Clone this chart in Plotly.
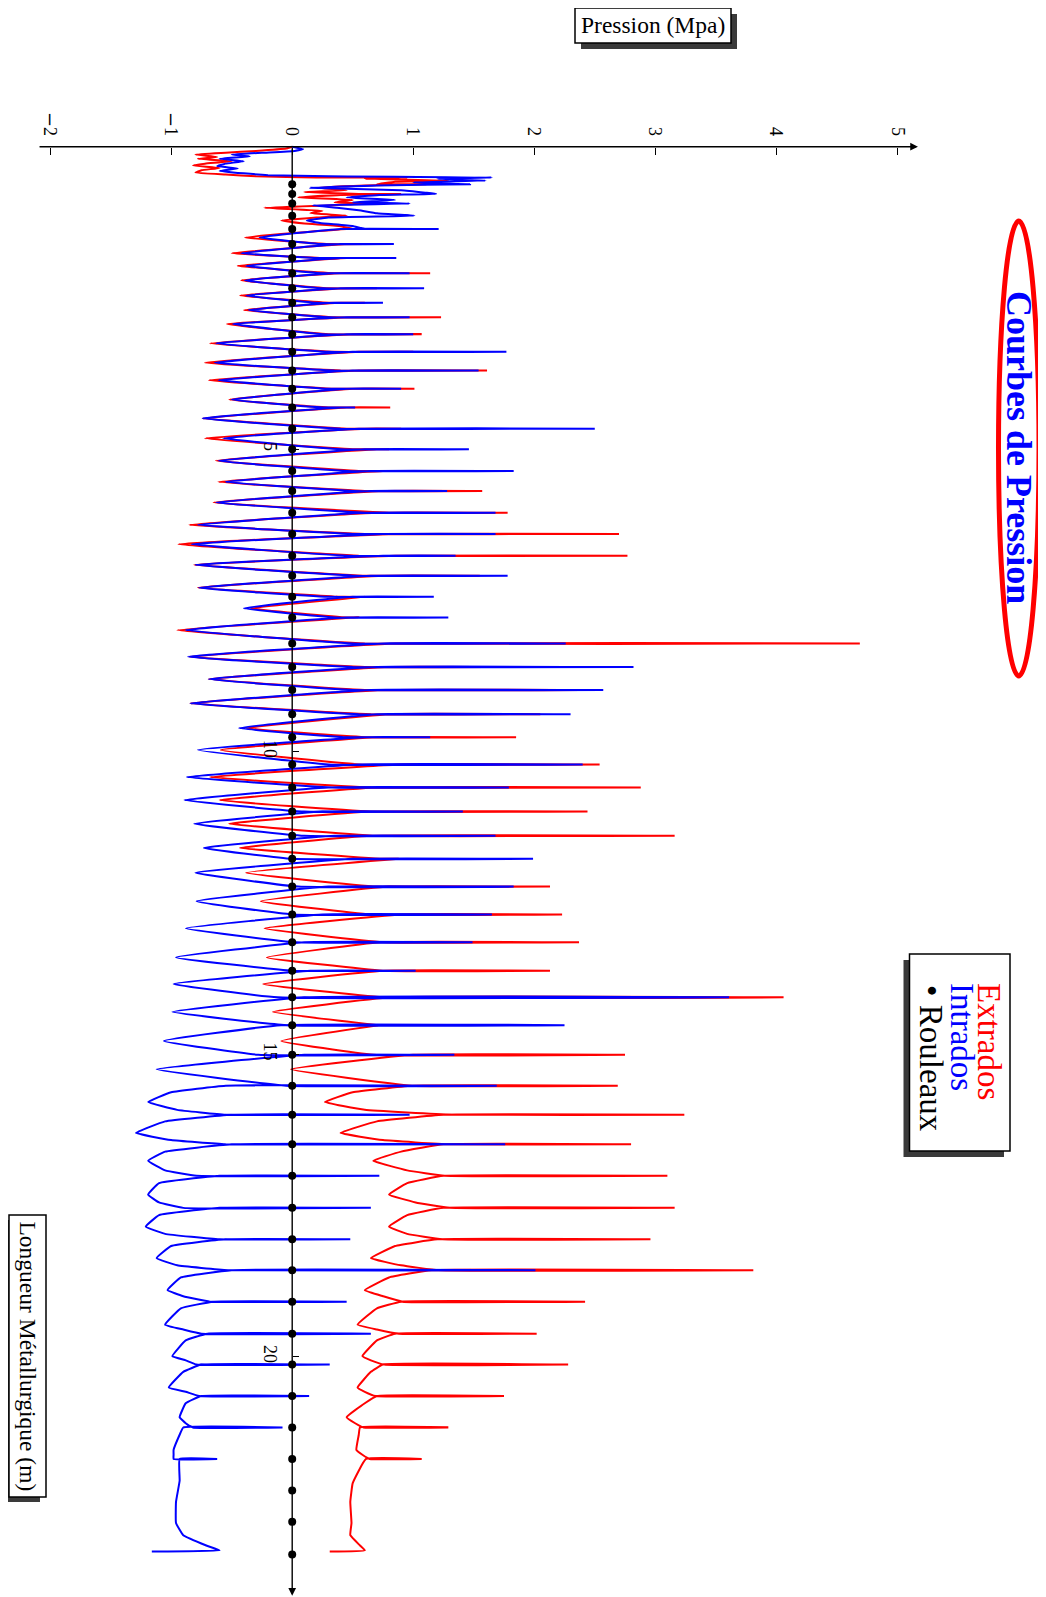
import plotly.graph_objects as go

# ---------------- data ----------------
# roller positions along the strand (m)
rollers = [0.62, 0.78, 0.94, 1.14, 1.36, 1.61, 1.84, 2.09, 2.34, 2.58, 2.82, 3.10, 3.39, 3.70,
           4.00, 4.31, 4.66, 5.00, 5.36, 5.69, 6.05, 6.40, 6.76, 7.09, 7.44, 7.78, 8.21, 8.60,
           8.98, 9.38, 9.76, 10.21, 10.59, 10.99, 11.39, 11.77, 12.23, 12.69, 13.15, 13.62,
           14.06, 14.52, 15.01, 15.52, 16.00, 16.49, 17.01, 17.54, 18.06, 18.57, 19.09, 19.62,
           20.13, 20.65, 21.17, 21.69, 22.21, 22.73, 23.27]

# rollers index 4..55 carry a pressure spike
first_spike, last_spike = 4, 55

red_peak = [0.55, 0.60, 0.60, 1.14, 0.70, 0.60, 1.23, 1.07, 1.00, 1.61, 1.01, 0.81, 0.90,
            0.80, 0.83, 1.57, 1.78, 2.70, 2.77, 1.55, 0.36, 0.50, 4.69, 1.60, 2.39, 2.05, 1.85,
            2.54, 2.88, 2.44, 3.16, 0.88, 2.13, 2.23, 2.37, 2.13, 4.06, 0.71, 2.75,
            2.69, 3.24, 2.80, 3.10, 3.16, 2.96, 3.81, 2.42, 2.02, 2.28, 1.75, 1.29, 1.07]
blue_peak = [1.21, 0.84, 0.86, 0.97, 1.09, 0.75, 0.97, 1.00, 1.77, 1.54, 0.90, 0.52, 2.50,
             1.46, 1.83, 1.28, 1.68, 1.68, 1.35, 1.78, 1.17, 1.29, 2.26, 2.82, 2.57, 2.30, 1.14,
             2.40, 1.79, 1.41, 1.68, 1.99, 1.83, 1.65, 1.49, 1.02, 3.61, 2.25, 1.34,
             1.69, 0.97, 1.76, 0.72, 0.65, 0.48, 2.01, 0.45, 0.65, 0.31, 0.14, -0.08, -0.62]

red_pre = [0.50, 0.30, 0.25, 0.35, 0.30, 0.30, 0.35, 0.30, 0.35, 0.40, 0.35, 0.30, 0.45,
           0.50, 0.55, 0.60, 0.80, 0.60, 0.55, 0.60, 0.40, 0.45, 0.60, 0.60, 0.60, 0.65, 0.60,
           0.55, 0.65, 0.65, 0.70, 0.75, 0.70, 0.65, 0.75, 0.75, 0.75, 0.71, 0.67,
           0.99, 1.32, 1.30, 1.26, 1.30, 1.24, 1.21, 0.91, 0.88, 0.76, 0.69, 0.59, 0.64]
red_post = [0.45, 0.45, 0.45, 0.40, 0.45, 0.40, 0.50, 0.50, 0.55, 0.55, 0.50, 0.45, 0.60,
            0.70, 0.75, 0.75, 0.70, 0.85, 0.85, 0.75, 0.60, 0.55, 0.85, 0.80, 0.75, 0.80, 0.70,
            0.90, 0.70, 0.65, 0.65, 0.88, 0.80, 0.90, 0.73, 0.75, 0.82, 0.71, 1.00,
            0.99, 1.25, 1.25, 1.25, 1.25, 1.20, 1.15, 0.90, 0.85, 0.75, 0.70, 0.56, 0.61]
blue_pre = [0.60, 0.25, 0.20, 0.25, 0.25, 0.20, 0.30, 0.25, 0.30, 0.35, 0.30, 0.25, 0.40,
            0.40, 0.45, 0.50, 0.60, 0.50, 0.45, 0.50, 0.30, 0.35, 0.50, 0.50, 0.50, 0.55, 0.45,
            0.30, 0.33, 0.10, 0.10, 0.00, 0.05, 0.00, 0.03, 0.00, -0.12, -0.05, -0.28,
            -0.05, -0.55, -0.55, -0.79, -0.90, -0.60, -0.53, -0.68, -0.75, -0.79, -0.77, -0.82, -0.98]
blue_post = [0.40, 0.40, 0.40, 0.35, 0.40, 0.35, 0.45, 0.45, 0.50, 0.50, 0.45, 0.40, 0.55,
             0.60, 0.65, 0.65, 0.60, 0.75, 0.75, 0.65, 0.50, 0.45, 0.75, 0.70, 0.65, 0.70, 0.60,
             0.55, 0.30, 0.25, 0.35, 0.50, 0.30, 0.25, 0.10, 0.15, 0.10, -0.09, 0.10,
             -0.55, -0.50, -0.50, -0.60, -0.60, -0.55, -0.50, -0.65, -0.70, -0.75, -0.75, -0.90, -0.93]

# troughs between consecutive spiking rollers
trough_pos = [1.50, 1.76, 1.97, 2.21, 2.46, 2.70, 2.93, 3.25, 3.57, 3.86, 4.18, 4.49, 4.82,
              5.19, 5.54, 5.88, 6.25, 6.57, 6.91, 7.29, 7.63, 7.99, 8.43, 8.80, 9.20, 9.61,
              9.97, 10.42, 10.80, 11.19, 11.59, 12.00, 12.47, 12.92, 13.40, 13.84, 14.30,
              14.78, 15.25, 15.79, 16.30, 16.76, 17.32, 17.85, 18.37, 18.90, 19.47, 19.99,
              20.51, 21.00, 21.54]
red_trough = [-0.39, -0.50, -0.45, -0.42, -0.43, -0.40, -0.54, -0.68, -0.72, -0.69, -0.52,
              -0.74, -0.72, -0.63, -0.61, -0.65, -0.85, -0.94, -0.81, -0.78, -0.34, -0.95,
              -0.85, -0.69, -0.84, -0.38, -0.59, -0.68, -0.60, -0.52, -0.43, -0.38, -0.26,
              -0.23, -0.21, -0.24, -0.16, -0.09, -0.01, 0.27, 0.40, 0.67, 0.80, 0.80, 0.65,
              0.60, 0.54, 0.58, 0.54, 0.45, 0.53]
blue_trough = [-0.27, -0.42, -0.38, -0.39, -0.38, -0.36, -0.49, -0.63, -0.64, -0.61, -0.50,
               -0.74, -0.57, -0.61, -0.55, -0.63, -0.78, -0.83, -0.80, -0.77, -0.40, -0.88,
               -0.86, -0.69, -0.84, -0.44, -0.78, -0.87, -0.89, -0.81, -0.73, -0.80, -0.79,
               -0.88, -0.96, -0.98, -0.99, -1.06, -1.12, -1.19, -1.29, -1.19, -1.19, -1.21,
               -1.12, -1.03, -1.05, -0.99, -1.02, -0.93, -0.98]

# rounded (U-shaped) gaps in the lower zone: rollers index 43..54 -> next roller
round_first = 43
shoulder_a_pos = [15.63, 16.11, 16.61, 17.13, 17.66, 18.17, 18.69, 19.20, 19.73, 20.25, 20.77, 21.29]
shoulder_b_pos = [15.92, 16.42, 16.92, 17.45, 17.97, 18.49, 19.00, 19.55, 20.06, 20.58, 21.10, 21.62]
red_shoulder_a = [0.50, 0.70, 0.90, 0.95, 0.95, 0.85, 0.80, 0.70, 0.70, 0.65, 0.60, 0.55]
red_shoulder_b = [0.60, 0.75, 0.95, 1.02, 0.95, 0.90, 0.75, 0.70, 0.65, 0.60, 0.52, 0.58]
blue_shoulder_a = [-1.00, -1.05, -1.05, -1.10, -1.10, -1.00, -0.92, -0.92, -0.88, -0.90, -0.88, -0.93]
blue_shoulder_b = [-0.95, -1.00, -1.05, -1.10, -1.05, -0.95, -0.90, -0.90, -0.88, -0.88, -0.88, -0.98]

# start of the curves (entry zone, before the regular roller pattern)
red_lead_L = [0.00, 0.03, 0.07, 0.10, 0.13, 0.17, 0.20, 0.24, 0.28, 0.31, 0.35, 0.39, 0.43,
              0.46, 0.49, 0.51, 0.51, 0.53, 0.56, 0.58, 0.62, 0.62, 0.64, 0.68, 0.72, 0.75,
              0.78, 0.78, 0.80, 0.84, 0.88, 0.92, 0.94, 0.97, 1.01, 1.06, 1.10, 1.14, 1.17,
              1.22, 1.27, 1.31]
red_lead_P = [0.00, -0.05, -0.30, -0.55, -0.80, -0.62, -0.78, -0.50, -0.72, -0.82, -0.60,
              -0.75, -0.80, -0.55, -0.30, 0.20, 0.95, 0.60, 1.29, 0.85, 0.70, 1.10, 0.60, 0.20,
              0.45, 0.10, 0.55, 0.90, 0.40, 0.05, 0.50, 0.35, 0.60, 0.30, -0.23, 0.25, 0.15,
              0.45, 0.20, -0.09, 0.10, 0.39]
blue_lead_L = [0.00, 0.04, 0.07, 0.10, 0.13, 0.16, 0.20, 0.24, 0.28, 0.32, 0.36, 0.40, 0.44,
               0.47, 0.49, 0.51, 0.53, 0.56, 0.59, 0.62, 0.64, 0.68, 0.72, 0.76, 0.78, 0.80,
               0.84, 0.88, 0.92, 0.94, 0.97, 1.01, 1.05, 1.10, 1.14, 1.17, 1.22, 1.26, 1.31]
blue_lead_P = [0.00, 0.09, 0.02, -0.25, -0.50, -0.35, -0.60, -0.40, -0.55, -0.62, -0.45,
               -0.60, -0.40, -0.20, 0.30, 1.65, 1.20, 1.60, 1.00, 1.47, 0.70, 0.15, 0.90, 1.10,
               1.19, 0.72, 0.45, 0.85, 0.50, 0.97, 0.17, 0.37, 0.55, 0.70, 1.01, 0.30, 0.12,
               0.23, 0.50]

# end of the curves (after the last spiking roller)
red_tail_L = [22.09, 22.40, 22.75, 22.95, 23.12, 23.20, 23.22]
red_tail_P = [0.50, 0.48, 0.49, 0.48, 0.56, 0.60, 0.31]
blue_tail_L = [22.05, 22.40, 22.75, 22.95, 23.12, 23.20, 23.22]
blue_tail_P = [-0.93, -0.96, -0.96, -0.90, -0.71, -0.60, -1.16]

pressure_ticks = [-2, -1, 0, 1, 2, 3, 4, 5]
MINUS = '<span style="font-family:DejaVu Serif">\u2212</span>'
pressure_labels = [MINUS + "2", MINUS + "1", "0", "1", "2", "3", "4", "5"]
length_ticks = [5, 10, 15, 20]


def build(lead_L, lead_P, peak, pre, post, trough, sh_a, sh_b, tail_L, tail_P):
    L, P = list(lead_L), list(lead_P)
    for i, k in enumerate(range(first_spike, last_spike + 1)):
        r = rollers[k]
        L += [r, r, r]
        P += [pre[i], peak[i], post[i]]
        if k < last_spike:
            if k >= round_first:
                j = k - round_first
                L += [shoulder_a_pos[j], trough_pos[i], shoulder_b_pos[j]]
                P += [sh_a[j], trough[i], sh_b[j]]
            else:
                L.append(trough_pos[i])
                P.append(trough[i])
    L += tail_L
    P += tail_P
    return L, P


rL, rP = build(red_lead_L, red_lead_P, red_peak, red_pre, red_post, red_trough,
               red_shoulder_a, red_shoulder_b, red_tail_L, red_tail_P)
bL, bP = build(blue_lead_L, blue_lead_P, blue_peak, blue_pre, blue_post, blue_trough,
               blue_shoulder_a, blue_shoulder_b, blue_tail_L, blue_tail_P)

# ---------------- figure ----------------
OFF = 8                      # page body margin
W, H = 1046 - OFF, 1597 - OFF
X0_PX, X_SCALE = 292.2 - OFF, 121.03     # pixel of P=0, pixels per MPa
Y0_PX, Y_SCALE = 146.7 - OFF, 60.5       # pixel of L=0, pixels per metre
x_range = [-X0_PX / X_SCALE, (W - X0_PX) / X_SCALE]
y_range = [(H - Y0_PX) / Y_SCALE, -Y0_PX / Y_SCALE]

SERIF = "Liberation Serif"

fig = go.Figure()
fig.add_trace(go.Scatter(x=rP, y=rL, mode="lines",
                         line=dict(color="#ff0000", width=2, shape="spline", smoothing=0.3),
                         name="Extrados", showlegend=False, hoverinfo="skip"))
fig.add_trace(go.Scatter(x=bP, y=bL, mode="lines",
                         line=dict(color="#0000ff", width=2, shape="spline", smoothing=0.3),
                         name="Intrados", showlegend=False, hoverinfo="skip"))
fig.add_trace(go.Scatter(x=[0] * len(rollers), y=rollers, mode="markers",
                         marker=dict(color="black", size=8), name="Rouleaux",
                         showlegend=False, hoverinfo="skip", cliponaxis=False))


def px(x):
    return (x - OFF) / W


def py(y):
    return 1 - (y - OFF) / H


shapes = []
annotations = []

# axis lines with arrows (data coordinates)
annotations.append(dict(x=5.17, y=0, ax=-2.10, ay=0, xref="x", yref="y", axref="x", ayref="y",
                        text="", showarrow=True, arrowhead=2, arrowsize=1.1, arrowwidth=1.4,
                        arrowcolor="black"))
annotations.append(dict(x=0, y=23.95, ax=0, ay=0, xref="x", yref="y", axref="x", ayref="y",
                        text="", showarrow=True, arrowhead=2, arrowsize=1.1, arrowwidth=1.4,
                        arrowcolor="black"))


def label(x, y, text, size, color, angle=0, bold=False):
    annotations.append(dict(xref="paper", yref="paper", x=px(x), y=py(y),
                            xanchor="center", yanchor="middle",
                            text=("<b>%s</b>" % text) if bold else text,
                            textangle=angle, showarrow=False,
                            font=dict(family=SERIF, size=size, color=color)))


def box(x0, x1, y0, y1, dx, dy):
    shapes.append(dict(type="rect", xref="paper", yref="paper", x0=px(x0 + dx), x1=px(x1 + dx),
                       y0=py(y1 + dy), y1=py(y0 + dy), line=dict(width=0),
                       fillcolor="#3a3a3a", layer="above"))
    shapes.append(dict(type="rect", xref="paper", yref="paper", x0=px(x0), x1=px(x1),
                       y0=py(y1), y1=py(y0), line=dict(color="black", width=1.5),
                       fillcolor="white", layer="above"))


# title in ellipse
shapes.append(dict(type="circle", xref="paper", yref="paper", x0=px(998.5), x1=px(1039),
                   y0=py(676), y1=py(221), line=dict(color="#ff0000", width=5)))
label(1019, 447, "Courbes de Pression", 36, "#0000ff", angle=90, bold=True)

# legend box (rotated)
box(909.5, 1010, 954, 1151, -6, 6)
label(989, 1041, "Extrados", 33, "#ff0000", angle=90)
label(962, 1037, "Intrados", 33, "#0000ff", angle=90)
label(931, 1058, "\u2022 Rouleaux", 33, "black", angle=90)

# "Pression (Mpa)" box
box(575, 731, 8, 43, 6, 6)
label(653, 25.5, "Pression (Mpa)", 23.5, "black")

# "Longueur Métallurgique (m)" box
box(9, 46, 1215, 1497, -6, 5)
label(27.5, 1356, "Longueur Métallurgique (m)", 23.5, "black", angle=90)

fig.update_layout(
    width=W, height=H, autosize=False,
    margin=dict(l=0, r=0, t=0, b=0, pad=0),
    paper_bgcolor="white", plot_bgcolor="white",
    showlegend=False,
    shapes=shapes, annotations=annotations,
    xaxis=dict(range=x_range, domain=[0, 1], anchor="free", position=1 - Y0_PX / H,
               side="top", tickmode="array", tickvals=pressure_ticks, ticktext=pressure_labels,
               ticks="inside", ticklen=7, tickwidth=1.2, tickcolor="black", tickangle=90,
               ticklabelstandoff=8,
               tickfont=dict(family=SERIF, size=18, color="black"),
               showgrid=False, zeroline=False, showline=False, automargin=False, fixedrange=True),
    yaxis=dict(range=y_range, domain=[0, 1], anchor="free", position=X0_PX / W,
               side="left", tickmode="array", tickvals=length_ticks,
               ticks="inside", ticklen=6, tickwidth=1.2, tickcolor="black", tickangle=90,
               ticklabelstandoff=10,
               tickfont=dict(family=SERIF, size=18, color="black"),
               showgrid=False, zeroline=False, showline=False, automargin=False, fixedrange=True),
)

fig.write_html("out.html")
